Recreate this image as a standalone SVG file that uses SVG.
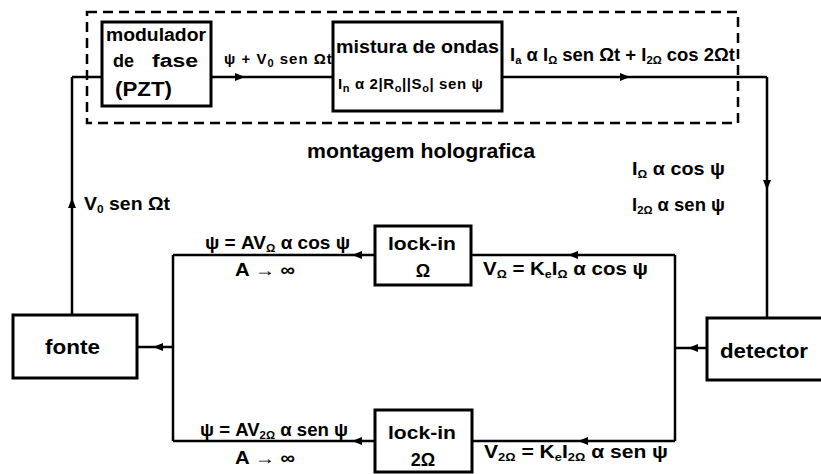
<svg xmlns="http://www.w3.org/2000/svg" width="821" height="474" viewBox="0 0 821 474">
<style>
.t{font-family:"Liberation Sans",Arial,sans-serif;font-weight:bold;fill:#000;font-size:18px}
.b{font-size:20px}
.m{font-size:15px}
.s{font-size:11px}
.box{fill:#fff;stroke:#000;stroke-width:3}
.ln{fill:none;stroke:#000;stroke-width:2.5}
.dash{fill:none;stroke:#000;stroke-width:2.5;stroke-dasharray:10 6}
</style>
<defs>
<marker id="a" markerUnits="userSpaceOnUse" markerWidth="10" markerHeight="8" refX="5" refY="4" orient="auto">
<path d="M0,0 L10,4 L0,8 Z" fill="#000"/>
</marker>
</defs>
<rect fill="#fff" x="0" y="0" width="821" height="474"/>
<rect class="dash" x="87" y="12" width="651" height="111"/>
<text class="t b" x="307" y="158" textLength="228" lengthAdjust="spacingAndGlyphs">montagem holografica</text>

<g id="connectors">
<path class="ln" d="M72 315 L72 203 L72 77" marker-mid="url(#a)"/>
<path class="ln" d="M72 77 L102 77"/>
<path class="ln" d="M211 77 L240 77 L333 77" marker-mid="url(#a)"/>
<path class="ln" d="M502 77 L625 77 L767 77"  marker-mid="url(#a)"/>
<path class="ln" d="M767 77 L767 185 L767 318" marker-mid="url(#a)"/>
<path class="ln" d="M707 348 L693 348 L675 348" marker-mid="url(#a)"/>
<path class="ln" d="M675 255 L675 441"/>
<path class="ln" d="M675 255 L573 255 L471 255" marker-mid="url(#a)"/>
<path class="ln" d="M675 441 L583 441 L472 441" marker-mid="url(#a)"/>
<path class="ln" d="M375 255 L357 255 L173 255" marker-mid="url(#a)"/>
<path class="ln" d="M375 441 L357 441 L173 441" marker-mid="url(#a)"/>
<path class="ln" d="M173 255 L173 441"/>
<path class="ln" d="M173 347 L158 347 L137 347" marker-mid="url(#a)"/>
</g>

<g id="modulador">
<rect class="box" x="102" y="22" width="109" height="84"/>
<text class="t" x="106" y="41" textLength="100" lengthAdjust="spacingAndGlyphs">modulador</text>
<text class="t" x="113" y="67" textLength="21" lengthAdjust="spacingAndGlyphs">de</text>
<text class="t" x="152" y="67" textLength="46" lengthAdjust="spacingAndGlyphs">fase</text>
<text class="t b" x="115" y="96" textLength="57" lengthAdjust="spacingAndGlyphs">(PZT)</text>
</g>

<g id="mistura">
<rect class="box" x="333" y="22" width="169" height="89"/>
<text class="t" x="336" y="53" textLength="163" lengthAdjust="spacingAndGlyphs">mistura de ondas</text>
<text class="t m" x="338" y="89" letter-spacing="0.6">I<tspan class="s" dy="3">n</tspan><tspan dy="-3"> α 2|R</tspan><tspan class="s" dy="3">o</tspan><tspan dy="-3">||S</tspan><tspan class="s" dy="3">o</tspan><tspan dy="-3">| sen ψ</tspan></text>
</g>

<g id="fonte">
<rect class="box" x="13" y="315" width="124" height="63"/>
<text class="t b" x="45" y="354" textLength="55" lengthAdjust="spacingAndGlyphs">fonte</text>
</g>

<g id="detector">
<rect class="box" x="707" y="318" width="125" height="62"/>
<text class="t b" x="720" y="358" textLength="88" lengthAdjust="spacingAndGlyphs">detector</text>
</g>

<g id="lockin1">
<rect class="box" x="375" y="226" width="96" height="59"/>
<text class="t" x="388" y="250" textLength="68" lengthAdjust="spacingAndGlyphs">lock-in</text>
<text class="t" x="423" y="277" text-anchor="middle">Ω</text>
</g>

<g id="lockin2">
<rect class="box" x="375" y="410" width="97" height="62"/>
<text class="t" x="388" y="439" textLength="68" lengthAdjust="spacingAndGlyphs">lock-in</text>
<text class="t" x="423" y="466" text-anchor="middle">2Ω</text>
</g>

<g id="labels">
<text class="t m" x="224" y="64" letter-spacing="1">ψ + V<tspan class="s" dy="3">0</tspan><tspan dy="-3"> sen Ωt</tspan></text>
<text class="t" x="510" y="61" textLength="225" lengthAdjust="spacingAndGlyphs">I<tspan class="s" dy="3">a</tspan><tspan dy="-3"> α I</tspan><tspan class="s" dy="3">Ω</tspan><tspan dy="-3"> sen Ωt + I</tspan><tspan class="s" dy="3">2Ω</tspan><tspan dy="-3"> cos 2Ωt</tspan></text>
<text class="t" x="632" y="175" textLength="93" lengthAdjust="spacingAndGlyphs">I<tspan class="s" dy="3">Ω</tspan><tspan dy="-3"> α cos ψ</tspan></text>
<text class="t" x="632" y="211" textLength="93" lengthAdjust="spacingAndGlyphs">I<tspan class="s" dy="3">2Ω</tspan><tspan dy="-3"> α sen ψ</tspan></text>
<text class="t" x="84" y="210" textLength="86" lengthAdjust="spacingAndGlyphs">V<tspan class="s" dy="3">0</tspan><tspan dy="-3"> sen Ωt</tspan></text>
<text class="t" x="205" y="249" textLength="145" lengthAdjust="spacingAndGlyphs">ψ = AV<tspan class="s" dy="3">Ω</tspan><tspan dy="-3"> α cos ψ</tspan></text>
<text class="t" x="235" y="276" textLength="60" lengthAdjust="spacingAndGlyphs">A → ∞</text>
<text class="t" x="483" y="275" textLength="165" lengthAdjust="spacingAndGlyphs">V<tspan class="s" dy="3">Ω</tspan><tspan dy="-3"> = K</tspan><tspan class="s" dy="3">e</tspan><tspan dy="-3">I</tspan><tspan class="s" dy="3">Ω</tspan><tspan dy="-3"> α cos ψ</tspan></text>
<text class="t" x="200" y="436" textLength="148" lengthAdjust="spacingAndGlyphs">ψ = AV<tspan class="s" dy="3">2Ω</tspan><tspan dy="-3"> α sen ψ</tspan></text>
<text class="t" x="235" y="464" textLength="60" lengthAdjust="spacingAndGlyphs">A → ∞</text>
<text class="t" x="484" y="458" textLength="184" lengthAdjust="spacingAndGlyphs">V<tspan class="s" dy="3">2Ω</tspan><tspan dy="-3"> = K</tspan><tspan class="s" dy="3">e</tspan><tspan dy="-3">I</tspan><tspan class="s" dy="3">2Ω</tspan><tspan dy="-3"> α sen ψ</tspan></text>
</g>
</svg>
